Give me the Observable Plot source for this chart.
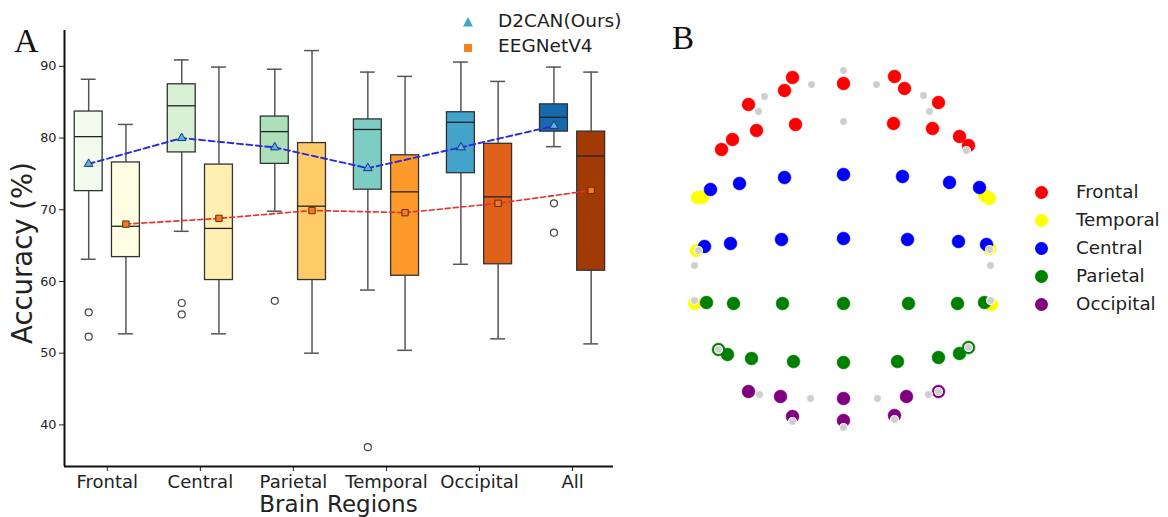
<!DOCTYPE html>
<html>
<head>
<meta charset="utf-8">
<script src="https://cdn.jsdelivr.net/npm/d3@7"></script>
<script src="https://cdn.jsdelivr.net/npm/@observablehq/plot@0.6"></script>
<style>
  body { margin: 0; background: #fff; }
  #wrap { position: relative; width: 1168px; height: 517px; overflow: hidden; font-family: "DejaVu Sans", sans-serif; color: #222; }
  .abs { position: absolute; white-space: nowrap; line-height: 1; }
  .panel { font-family: "Liberation Serif", "Times New Roman", serif; color: #111; }
  .dotleg { position: absolute; width: 13px; height: 13px; border-radius: 50%; }
</style>
</head>
<body>
<div id="wrap">
  <div id="chartA" class="abs" style="left:0;top:0"></div>
  <div id="chartB" class="abs" style="left:660px;top:0"></div>
  <div class="abs panel" style="left:14px;top:23.5px;font-size:34px">A</div>
  <div class="abs panel" style="left:672px;top:22px;font-size:33px">B</div>
  <div class="abs" style="left:22.5px;top:253px;font-size:27.5px;transform:translate(-50%,-50%) rotate(-90deg);line-height:1.16">Accuracy (%)</div>
  <div class="abs" style="left:338.5px;top:492.5px;font-size:23px;transform:translateX(-50%)">Brain Regions</div>
  <div id="legA"></div>
  <div id="legB"></div>
</div>
<script>
// ---------- Panel A data ----------
const regions = ["Frontal", "Central", "Parietal", "Temporal", "Occipital", "All"];
const methods = ["D2CAN(Ours)", "EEGNetV4"];

const d2canLow  = [63.1, 67.0, 69.8, 58.8, 62.4, 78.8];
const d2canQ1   = [72.6, 78.0, 76.4, 72.8, 75.1, 80.9];
const d2canMed  = [80.2, 84.5, 80.9, 81.2, 82.2, 82.9];
const d2canQ3   = [83.7, 87.5, 83.0, 82.6, 83.6, 84.7];
const d2canHigh = [88.2, 90.9, 89.6, 89.2, 90.6, 89.9];
const d2canMean = [76.4, 80.0, 78.7, 75.8, 78.7, 81.7];
const d2canOut  = [[55.7, 52.3], [57.0, 55.4], [57.3], [36.9], [], [70.9, 66.8]];

const eegLow  = [52.7, 52.7, 50.0, 50.4, 52.0, 51.3];
const eegQ1   = [63.4, 60.2, 60.2, 60.8, 62.4, 61.5];
const eegMed  = [67.7, 67.4, 70.5, 72.5, 71.8, 77.5];
const eegQ3   = [76.6, 76.3, 79.3, 77.6, 79.2, 80.9];
const eegHigh = [81.9, 89.9, 92.2, 88.6, 87.9, 89.2];
const eegMean = [68.0, 68.8, 69.9, 69.6, 70.9, 72.7];
const eegOut  = [[], [], [], [], [], []];

const yTicks = [40, 50, 60, 70, 80, 90];

// ---------- Panel B data (electrode layout, arbitrary units) ----------
const bRegions = ["Frontal", "Temporal", "Central", "Parietal", "Occipital"];
const frontalPts = [[-51,173],[-59,160],[0,167],[51,174],[61,162],[-95,146],[95,148],[-87,120],[-48,126],[50,127],[89,122],[-111,111],[-122,101],[116,114],[125,105]];
const temporalPts = [[-146,53],[-141,53],[141,55],[146,52],[-147,0],[146,2],[-149,-53],[148,-54]];
const centralPts = [[0,76],[-59,73],[59,74],[-104,67],[106,68],[-133,61],[136,63],[0,12],[-62,11],[64,11],[-113,7],[115,9],[-139,4],[143,6]];
const parietalPts = [[0,-53],[-61,-53],[65,-53],[-110,-53],[114,-53],[-137,-52],[141,-52],[0,-112],[-50,-111],[54,-111],[-92,-108],[95,-107],[-116,-104],[116,-103],[-125,-99],[125,-97]];
const occipitalPts = [[-95,-141],[-63,-146],[0,-148],[63,-146],[95,-141],[-51,-166],[0,-170],[51,-165]];
const otherPts = [[0,180],[-32,166],[33,166],[-79,154],[80,155],[-85,139],[86,139],[0,129],[123,100],[-145,0],[146,1],[-149,-15],[147,-15],[-149,-50],[147,-50],[-125,-99],[125,-97],[-84,-144],[-33,-148],[34,-148],[85,-144],[95,-141],[-51,-171],[0,-177],[51,-169]];

// ---------- styles ----------
const d2canFills = ["#f3fbef", "#d8f0d3", "#ade0b8", "#7dcdc4", "#43a3cb", "#1769ad"];
const eegFills   = ["#fffee2", "#fff0b2", "#fecb66", "#fd9a2b", "#e2611a", "#a23a06"];
const regionColors = {Frontal: "#ff0000", Temporal: "#ffff00", Central: "#0000ff", Parietal: "#008000", Occipital: "#800080"};
const offset = 0.2, halfBox = 0.15, halfCap = 0.08;
const xDomain = [-0.46, 5.44];
const yDomain = [34.2, 95];

// ---------- build table ----------
const rows = [];
const outs = [];
const means = [];
regions.forEach((r, i) => {
  [[0, d2canLow, d2canQ1, d2canMed, d2canQ3, d2canHigh, d2canMean, d2canOut, d2canFills],
   [1, eegLow, eegQ1, eegMed, eegQ3, eegHigh, eegMean, eegOut, eegFills]].forEach(([m, lo, q1, md, q3, hi, mn, ou, fl]) => {
    const pos = i + (m === 0 ? -offset : offset);
    rows.push({region: r, method: methods[m], pos, low: lo[i], q1: q1[i], med: md[i], q3: q3[i], high: hi[i], fill: fl[i]});
    means.push({method: methods[m], pos, mean: mn[i]});
    ou[i].forEach(v => outs.push({pos, v}));
  });
});
const d2Means = means.filter(d => d.method === methods[0]);
const eegMeans = means.filter(d => d.method === methods[1]);

const chartA = Plot.plot({
  width: 640, height: 517,
  marginLeft: 64, marginRight: 27, marginTop: 30, marginBottom: 51,
  style: {fontFamily: "DejaVu Sans", color: "#222", background: "transparent"},
  x: {domain: xDomain},
  y: {domain: yDomain},
  color: {type: "identity"},
  marks: [
    Plot.axisX({ticks: regions.map((_, i) => i), tickFormat: i => regions[i], fontSize: 18, tickSize: 5, tickPadding: 4, label: null, stroke: "#222"}),
    Plot.axisY({ticks: yTicks, fontSize: 12.8, tickSize: 5, tickPadding: 3, label: null, stroke: "#222"}),
    Plot.ruleX(rows, {x: "pos", y1: "low", y2: "q1", stroke: "#555", strokeWidth: 1.5}),
    Plot.ruleX(rows, {x: "pos", y1: "q3", y2: "high", stroke: "#555", strokeWidth: 1.5}),
    Plot.ruleY(rows, {y: "low", x1: d => d.pos - halfCap, x2: d => d.pos + halfCap, stroke: "#555", strokeWidth: 1.5}),
    Plot.ruleY(rows, {y: "high", x1: d => d.pos - halfCap, x2: d => d.pos + halfCap, stroke: "#555", strokeWidth: 1.5}),
    Plot.rect(rows, {x1: d => d.pos - halfBox, x2: d => d.pos + halfBox, y1: "q1", y2: "q3", fill: "fill", stroke: "#333", strokeWidth: 1.3}),
    Plot.ruleY(rows, {y: "med", x1: d => d.pos - halfBox, x2: d => d.pos + halfBox, stroke: "#222", strokeWidth: 1.3}),
    Plot.dot(outs, {x: "pos", y: "v", r: 3.5, stroke: "#444", fill: "white", strokeWidth: 1.2}),
    Plot.line(d2Means, {x: "pos", y: "mean", stroke: "#2b2bdc", strokeWidth: 1.9, strokeDasharray: "6,3.5"}),
    Plot.line(eegMeans, {x: "pos", y: "mean", stroke: "#e53030", strokeWidth: 1.6, strokeDasharray: "5,3"}),
    Plot.dot(d2Means, {x: "pos", y: "mean", symbol: "triangle", r: 3.2, fill: "#5ab4d8", stroke: "#1d2f8a", strokeWidth: 1}),
    Plot.dot(eegMeans, {x: "pos", y: "mean", symbol: "square", r: 3.6, fill: "#f07c28", stroke: "#6a2a00", strokeWidth: 1}),
    Plot.ruleX([xDomain[0]], {stroke: "#111", strokeWidth: 2}),
    Plot.ruleY([yDomain[0]], {stroke: "#111", strokeWidth: 2})
  ]
});
document.getElementById("chartA").appendChild(chartA);

// ---------- panel B ----------
const bxDomain = [-183, 177];
const byDomain = [-267, 250];
const regionPts = {Frontal: frontalPts, Temporal: temporalPts, Central: centralPts, Parietal: parietalPts, Occipital: occipitalPts};
const drawOrder = ["Frontal", "Temporal", "Central", "Parietal", "Occipital"];
const chartB = Plot.plot({
  width: 360, height: 517, margin: 0,
  style: {background: "transparent"},
  x: {domain: bxDomain, axis: null},
  y: {domain: byDomain, axis: null},
  marks: [
    ...drawOrder.map(name => Plot.dot(regionPts[name], {x: d => d[0], y: d => d[1], r: 6.5, fill: regionColors[name], stroke: regionColors[name], strokeWidth: 0.5})),
    Plot.dot(otherPts, {x: d => d[0], y: d => d[1], r: 4, fill: "#cfcfcf", stroke: "white", strokeWidth: 1.1})
  ]
});
document.getElementById("chartB").appendChild(chartB);

// ---------- legends ----------
const legA = document.getElementById("legA");
legA.innerHTML = `
  <svg class="abs" style="left:462px;top:16px" width="12" height="12"><polygon points="6,1 11,10.5 1,10.5" fill="#3fa9c9"/></svg>
  <div class="abs" style="left:498px;top:11.5px;font-size:18.5px">${methods[0]}</div>
  <svg class="abs" style="left:464px;top:44px" width="8" height="8"><rect x="0" y="0" width="8" height="8" fill="#f58220"/></svg>
  <div class="abs" style="left:498px;top:36.5px;font-size:18.5px">${methods[1]}</div>`;
const legB = document.getElementById("legB");
legB.innerHTML = bRegions.map((name, k) => `
  <div class="dotleg" style="left:1035px;top:${185.5 + 28 * k}px;background:${regionColors[name]}"></div>
  <div class="abs" style="left:1076px;top:${183 + 28 * k}px;font-size:18.3px">${name}</div>`).join("");
</script>
</body>
</html>
